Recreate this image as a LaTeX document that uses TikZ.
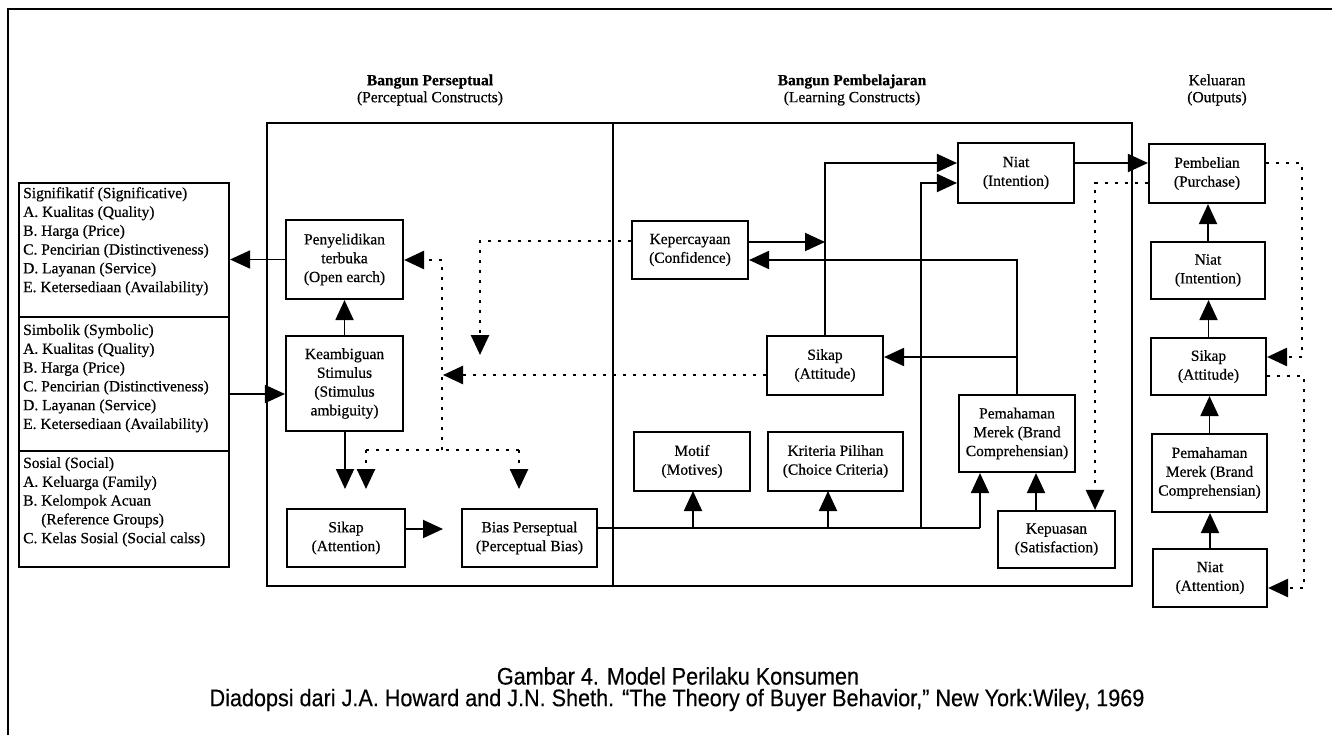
\documentclass[tikz,border=0pt]{standalone}
\usepackage{fontspec}
\setmainfont{Liberation Serif}[FakeBold=0.5]
\newfontfamily\capfont{Liberation Sans}[FakeStretch=0.9,FakeBold=0.3]
\usetikzlibrary{arrows.meta}
\newcommand\bx{\fontsize{15.5}{18.8}\selectfont}
\begin{document}
\begin{tikzpicture}[x=1pt,y=-1pt,
  box/.style={draw, line width=2.1pt, inner sep=1pt, align=center, font=\bx},
  lbox/.style={draw, line width=2.1pt, inner sep=0pt},
  ltext/.style={inner sep=0pt, align=left, font=\bx, anchor=north west},
  hdr/.style={inner sep=0pt, align=center, font=\fontsize{15.5}{17}\selectfont},
  bigbox/.style={draw, line width=2.6pt},
  conn/.style={line width=1.9pt},
  arr/.style={conn, -{Triangle[length=20pt,width=18pt]}},
  dot/.style={line width=2.6pt, dash pattern=on 3pt off 7pt},
  darr/.style={dot, -{Triangle[length=20pt,width=18pt]}},
  captext/.style={inner sep=0pt, font=\capfont\fontsize{24}{24}\selectfont}]
\useasboundingbox (0,0) rectangle (1332,735);
\fill[white] (0,0) rectangle (1332,735);
% outer frame
\draw[line width=2.2pt] (8,736) -- (8,9) -- (1333,9);
% headers
\node[hdr] (h1) at (430,90) {\textbf{Bangun Perseptual}\\(Perceptual Constructs)};
\node[hdr] (h2) at (852,90) {\textbf{Bangun Pembelajaran}\\(Learning Constructs)};
\node[hdr] (h3) at (1217,90) {Keluaran\\(Outputs)};
% big boxes
\draw[bigbox] (267,123) rectangle (613,586);
\draw[bigbox] (613,123) rectangle (1132,586);
% input boxes
\node[lbox, minimum width=210pt, minimum height=134pt] (sig) at (124,250) {};
\node[lbox, minimum width=210pt, minimum height=134pt] (sym) at (124,384) {};
\node[lbox, minimum width=210pt, minimum height=116pt] (soc) at (124,509) {};
\node[ltext] (sigt) at (23,187) {Signifikatif (Significative)\\A. Kualitas (Quality)\\B. Harga (Price)\\C. Pencirian (Distinctiveness)\\D. Layanan (Service)\\E. Ketersediaan (Availability)};
\node[ltext] (symt) at (23,324) {Simbolik (Symbolic)\\A. Kualitas (Quality)\\B. Harga (Price)\\C. Pencirian (Distinctiveness)\\D. Layanan (Service)\\E. Ketersediaan (Availability)};
\node[ltext] (soct) at (23,457) {Sosial (Social)\\A. Keluarga (Family)\\B. Kelompok Acuan\\\phantom{B. }(Reference Groups)\\C. Kelas Sosial (Social calss)};
% perceptual boxes
\node[box, minimum width=117pt, minimum height=79pt] (pen) at (344.5,259.5) {Penyelidikan\\terbuka\\(Open earch)};
\node[box, minimum width=117pt, minimum height=95pt] (amb) at (344.5,383.5) {Keambiguan\\Stimulus\\(Stimulus\\ambiguity)};
\node[box, minimum width=118pt, minimum height=58pt] (att) at (346,538) {Sikap\\(Attention)};
\node[box, minimum width=135pt, minimum height=58pt] (bias) at (529.5,538) {Bias Perseptual\\(Perceptual Bias)};
% learning boxes
\node[box, minimum width=116pt, minimum height=58pt] (kep) at (690,250) {Kepercayaan\\(Confidence)};
\node[box, minimum width=116pt, minimum height=60pt] (niat) at (1016,173) {Niat\\(Intention)};
\node[box, minimum width=116pt, minimum height=59pt] (sikl) at (825,365.5) {Sikap\\(Attitude)};
\node[box, minimum width=116pt, minimum height=59pt] (mot) at (692,461.5) {Motif\\(Motives)};
\node[box, minimum width=135pt, minimum height=59pt] (kri) at (835.5,461.5) {Kriteria Pilihan\\(Choice Criteria)};
\node[box, minimum width=116pt, minimum height=77pt] (pem) at (1017,433.5) {Pemahaman\\Merek (Brand\\Comprehensian)};
\node[box, minimum width=117pt, minimum height=57pt] (kepu) at (1056.5,539.5) {Kepuasan\\(Satisfaction)};
% output boxes
\node[box, minimum width=116pt, minimum height=59pt] (pemb) at (1207,173.5) {Pembelian\\(Purchase)};
\node[box, minimum width=114pt, minimum height=57pt] (niato) at (1208,270.5) {Niat\\(Intention)};
\node[box, minimum width=115pt, minimum height=57pt] (siko) at (1208.5,366.5) {Sikap\\(Attitude)};
\node[box, minimum width=115pt, minimum height=78pt] (pemo) at (1209.5,473) {Pemahaman\\Merek (Brand\\Comprehensian)};
\node[box, minimum width=114pt, minimum height=58pt] (niata) at (1210,578) {Niat\\(Attention)};
% free ends
\coordinate (t1) at (345,489);
\coordinate (t2) at (443,529);
\coordinate (bj) at (980,528);
\coordinate (jk) at (825,242);
\coordinate (ta) at (366,489);
\coordinate (tb) at (519,489);
\coordinate (tc) at (480,355);
\coordinate (td) at (443,375);
% solid connectors
\draw[arr] (pen.west) -- (sig.east |- pen.west);
\draw[arr] (sym.east |- 0,394) -- (amb.west |- 0,394);
\draw[arr] (amb.north) -- (pen.south);
\draw[arr] (amb.south -| t1) -- (t1);
\draw[arr] (att.east |- t2) -- (t2);
\draw[conn] (bias.east |- bj) -- (bj);
\draw[arr] (bj) -- (bj |- pem.south);
\draw[arr] (693,528) -- (693,491);
\draw[arr] (828,528) -- (828,491);
\draw[arr] (921,528) -- (921,183) -- (niat.west |- 0,183);
\draw[arr] (sikl.north) -- (825,163) -- (niat.west |- 0,163);
\draw[arr] (kep.east |- jk) -- (jk);
\draw[arr] (pem.north) -- (pem.north |- 0,260) -- (kep.east |- 0,260);
\draw[arr] (pem.north |- 0,357) -- (sikl.east |- 0,357);
\draw[arr] (kepu.north -| 1036,0) -- (pem.south -| 1036,0);
\draw[arr] (niat.east |- 0,163) -- (pemb.west |- 0,163);
\draw[arr] (niato.north) -- (niato.north |- pemb.south);
\draw[arr] (siko.north) -- (siko.north |- niato.south);
\draw[arr] (pemo.north) -- (pemo.north |- siko.south);
\draw[arr] (niata.north) -- (niata.north |- pemo.south);
% dotted connectors
\draw[darr] (pemb.west |- 0,183) -- (1095,183) -- (kepu.north -| 1095,0);
\draw[darr] (pemb.east |- 0,163) -- (1302,163) -- (1302,357) -- (siko.east |- 0,357);
\draw[darr] (siko.east |- 0,376) -- (1304,376) -- (1304,588) -- (niata.east |- 0,588);
\draw[darr] (sikl.west |- td) -- (td);
\draw[darr] (kep.west |- 0,241) -- (480,241) -- (tc);
\draw[darr] (442,450) -- (442,260) -- (pen.east |- 0,260);
\draw[dot] (366,450) -- (519,450);
\draw[darr] (366,450) -- (ta);
\draw[darr] (519,450) -- (tb);
% caption
\node[captext] (cap1) at (678,676) {Gambar 4. Model Perilaku Konsumen};
\node[captext] (cap2) at (677,700) {Diadopsi dari J.A. Howard and J.N. Sheth. “The Theory of Buyer Behavior,” New York:Wiley, 1969};
\end{tikzpicture}
\end{document}
